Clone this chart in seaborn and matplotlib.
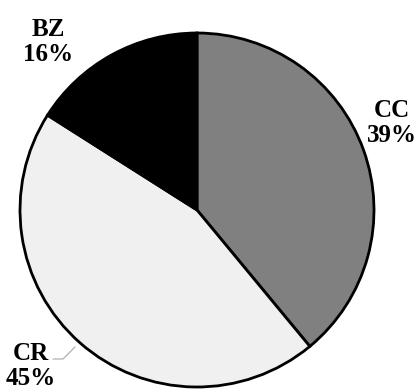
import matplotlib
matplotlib.use("Agg")
import matplotlib.pyplot as plt
import seaborn as sns

# Shares of each category (percent), drawn clockwise from 12 o'clock
categories = ["CC", "CR", "BZ"]
shares = [39, 45, 16]
slice_colors = ["#808080", "#f0f0f0", "#000000"]

sns.set_theme(style="white")
plt.rcParams["font.family"] = ["Liberation Serif", "DejaVu Serif"]

W, H = 420, 389
fig = plt.figure(figsize=(W / 100, H / 100), dpi=100)
ax = fig.add_axes([0, 0, 1, 1])

# pie centre and radius in pixels
cx, cy, r = 197, 210, 177


def px(x, y):
    return (x - cx) / r, (cy - y) / r


ax.pie(
    shares,
    colors=slice_colors,
    startangle=90,
    counterclock=False,
    radius=1,
    center=(0, 0),
    wedgeprops=dict(edgecolor="black", linewidth=2),
)
ax.set_xlim((0 - cx) / r, (W - cx) / r)
ax.set_ylim((cy - H) / r, cy / r)
ax.set_aspect("auto")
ax.axis("off")

# label anchor points (pixels)
label_pos = {"CC": (392, 123), "CR": (31, 366), "BZ": (48, 42)}
for cat, val in zip(categories, shares):
    x, y = px(*label_pos[cat])
    ax.text(x, y, f"{cat}\n{val}%", ha="center", va="center",
            fontsize=18, fontweight="bold", color="black", linespacing=1.15)

# leader line for CR
lx, ly = zip(px(53, 359), px(63, 359), px(75, 347))
ax.plot(lx, ly, color="#a8a8a8", linewidth=0.8)

fig.savefig("out.png", dpi=100, facecolor="white")
